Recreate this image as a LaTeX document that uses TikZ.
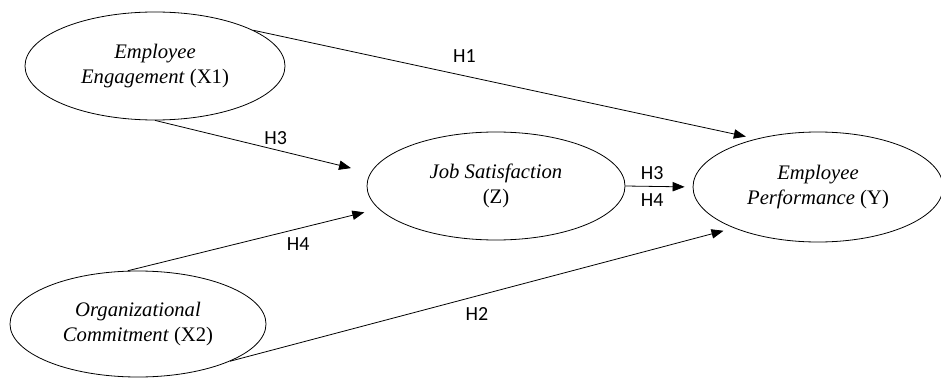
\documentclass[tikz,border=0pt]{standalone}
\usepackage{fontspec}
\setmainfont{Liberation Serif}
\newfontfamily\hfont{Carlito}
\usepackage{tikz}
\usetikzlibrary{shapes.geometric, arrows.meta}

\begin{document}
\begin{tikzpicture}[->, >={Triangle[length=9pt,width=7pt]}, line width=0.6pt, x=0.75pt, y=-0.75pt,
	var/.style={draw, ellipse, inner sep=0pt, align=center, font=\fontsize{15.5}{19}\selectfont},
	hyp/.style={font=\hfont\fontsize{15}{18}\selectfont}]
	\useasboundingbox (0,0) rectangle (941,381);

	\node[var, minimum width=195pt, minimum height=81pt] (x1) at (155,66) {\textit{Employee}\\\textit{Engagement} (X1)};
	\node[var, minimum width=193.5pt, minimum height=81pt] (z) at (496,186) {\textit{Job Satisfaction}\\(Z)};
	\node[var, minimum width=187.5pt, minimum height=82.5pt] (y) at (818,187) {\textit{Employee}\\\textit{Performance} (Y)};
	\node[var, minimum width=192pt, minimum height=79.5pt] (x2) at (138,324) {\textit{Organizational}\\\textit{Commitment} (X2)};

		\path 	(x1.20) edge [shorten >=8pt] node[hyp, pos=0.42, above=6pt]{H1} (y.142)
				(x1.south) edge [shorten >=15pt] node[hyp, pos=0.56, above]{H3} (z.174)
				(x2.101) edge [shorten >=11pt] node[hyp, pos=0.68, below=3pt]{H4} (z.191)
				(x2.-22) edge [shorten >=8pt] node[hyp, pos=0.49, below=5pt]{H2} (y.206)
				(z.east) edge [shorten >=6pt] node[hyp, pos=0.4, above=1.5pt]{H3} node[hyp, pos=0.4, below=2pt]{H4} (y.west)
		;
\end{tikzpicture}
\end{document}
